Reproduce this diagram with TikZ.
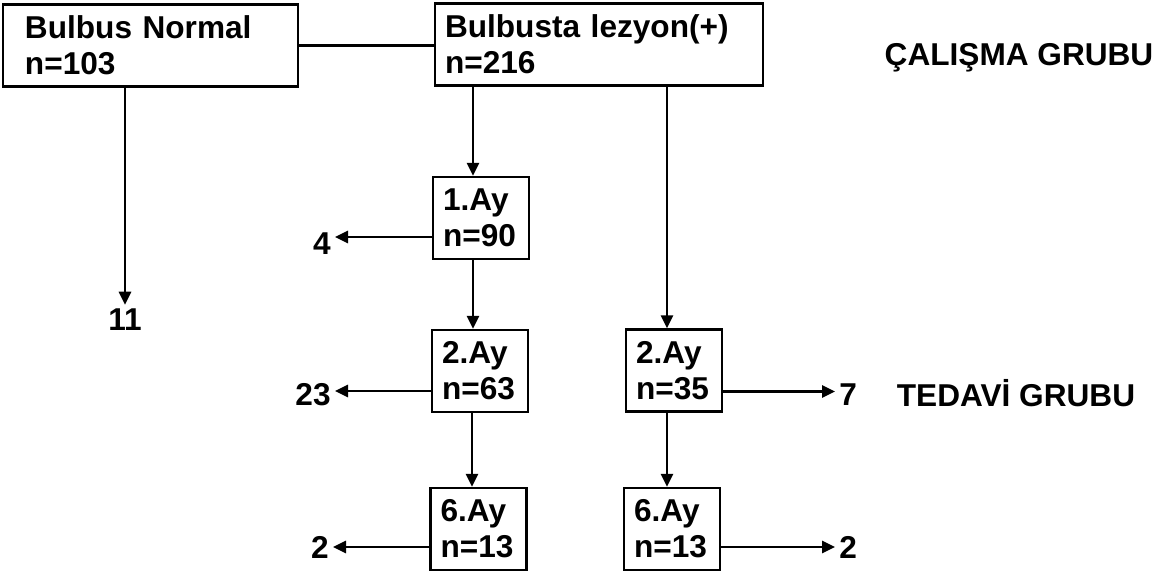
\documentclass[tikz,border=0pt]{standalone}
\usepackage{fontspec}
\setmainfont{Liberation Sans}
\usetikzlibrary{positioning, arrows.meta}

\begin{document}
\begin{tikzpicture}[
  x=0.5pt, y=-0.5pt,
  every node/.style={font=\fontsize{15.8}{18}\selectfont\bfseries},
  box/.style={rectangle, draw, line width=1.2pt, align=left, inner xsep=5pt,
              minimum height=41pt, text width=38pt},
  num/.style={inner sep=2pt},
  arrow/.style={-{Triangle[length=6.5pt,width=6pt]}, line width=1.4pt},
  link/.style={line width=1.2pt},
]
\useasboundingbox (0,0) rectangle (1165,577);

\node[box, text width=125.5pt, inner xsep=11pt] at (150.5,45.5) (normal) {Bulbus Normal\\n=103};
\node[box, text width=154pt] at (599,44.5) (lezyon) {Bulbusta lezyon(+)\\n=216};

\node[box] at (481,218)   (ay1)  {1.Ay\\n=90};
\node[box] at (480,371)   (ay2a) {2.Ay\\n=63};
\node[box] at (674,370.5) (ay2b) {2.Ay\\n=35};
\node[box] at (478.5,529) (ay6a) {6.Ay\\n=13};
\node[box] at (672,529)   (ay6b) {6.Ay\\n=13};

\node[num] at (125,320) (out11) {11};
\node[num, anchor=east] at (335,244) (out4)  {4};
\node[num, anchor=east] at (335,395) (out23) {23};
\node[num, anchor=east] at (333,547) (out2a) {2};
\node[num, anchor=west] at (835,395) (out7)  {7};
\node[num, anchor=west] at (835,547) (out2b) {2};

\node at (1019,58)  (calisma) {ÇALIŞMA GRUBU};
\node at (1016,393) (tedavi)  {TEDAVİ GRUBU};

\draw[link] (normal.east) -- (normal.east -| lezyon.west);
\draw[arrow] (out11 |- normal.south) -- (out11);

\draw[arrow] ([xshift=-4pt]ay1.north |- lezyon.south) -- ([xshift=-4pt]ay1.north);
\draw[arrow] ([xshift=-4pt]ay1.south) -- ([xshift=-4pt]ay1.south |- ay2a.north);
\draw[arrow] ([xshift=-4pt]ay2a.south) -- ([xshift=-4pt]ay2a.south |- ay6a.north);
\draw[arrow] ([xshift=-3.5pt]ay2b.north |- lezyon.south) -- ([xshift=-3.5pt]ay2b.north);
\draw[arrow] ([xshift=-3.5pt]ay2b.south) -- ([xshift=-3.5pt]ay2b.south |- ay6b.north);

\draw[arrow] ([yshift=-9.5pt]ay1.west) -- ([yshift=-9.5pt]ay1.west -| out4.east);
\draw[arrow] ([yshift=-10pt]ay2a.west) -- ([yshift=-10pt]ay2a.west -| out23.east);
\draw[arrow] ([yshift=-9pt]ay6a.west) -- ([yshift=-9pt]ay6a.west -| out2a.east);
\draw[arrow] ([yshift=-10.5pt]ay2b.east) -- ([yshift=-10.5pt]ay2b.east -| out7.west);
\draw[arrow] ([yshift=-9pt]ay6b.east) -- ([yshift=-9pt]ay6b.east -| out2b.west);
\end{tikzpicture}
\end{document}
